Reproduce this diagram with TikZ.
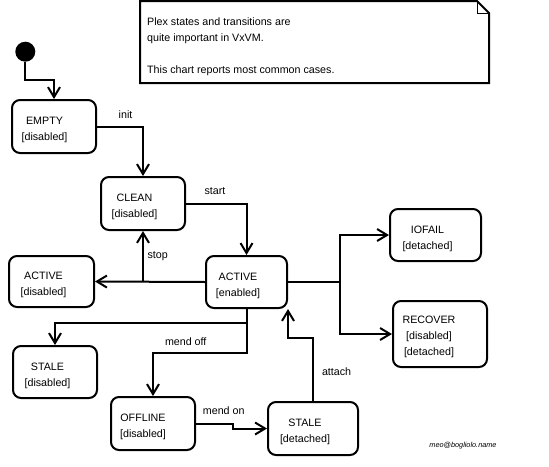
\documentclass[tikz,border=0pt]{standalone}
\usepackage{fontspec}
\setmainfont{Liberation Sans}
\usetikzlibrary{arrows.meta,positioning,calc}

\begin{document}
\begin{tikzpicture}[x=1pt,y=-1pt,
	initial/.style={circle, fill=black, minimum size=20pt, inner sep=0pt},
	state/.style={draw, rounded corners=8pt, line width=2pt, minimum width=84pt, minimum height=53pt, inner sep=0pt},
	statetxt/.style={align=center, inner sep=0pt, font=\fontsize{10.7}{16}\selectfont},
	trans/.style={line width=2pt, -{Straight Barb[length=10pt,width=12pt]}},
	link/.style={line width=2pt},
	lbl/.style={inner sep=1.5pt, font=\fontsize{10.7}{13}\selectfont}]
	\useasboundingbox (0,0) rectangle (549,466);

	%Draw note
	\draw[line width=2pt, line join=miter] (140,83) -- (140,1) -- (477,1) -- (489,13) -- (489,83) -- cycle;
	\draw[line width=0.9pt] (477,1) |- (489,13);
	\node[anchor=north west, align=left, inner sep=0pt, font=\fontsize{10.7}{16}\selectfont] (note) at (147,17.3)
		{Plex states and transitions are\\quite important in VxVM.\\[16pt]This chart reports most common cases.};

	%Draw states
	\node[initial] (start) at (25.3,51.7) {};
	\node[state] (empty) at (54,126.5) {};
	\node[statetxt] (empty txt) at ($(empty)+(-9.5,3.5)$) {EMPTY\\{[disabled]}};
	\node[state] (clean) at (143,203.5) {};
	\node[statetxt] (clean txt) at ($(clean)+(-8.5,3.5)$) {CLEAN\\{[disabled]}};
	\node[state, minimum width=81pt, minimum height=52pt] (active en) at (246.5,282) {};
	\node[statetxt] (active en txt) at ($(active en)+(-8.5,3.5)$) {ACTIVE\\{[enabled]}};
	\node[state, minimum width=85pt, minimum height=51pt] (active dis) at (51.5,281.5) {};
	\node[statetxt] (active dis txt) at ($(active dis)+(-8,3.5)$) {ACTIVE\\{[disabled]}};
	\node[state, minimum height=52pt] (stale dis) at (55,372) {};
	\node[statetxt] (stale dis txt) at ($(stale dis)+(-7.5,3.5)$) {STALE\\{[disabled]}};
	\node[state] (offline) at (153,423.5) {};
	\node[statetxt] (offline txt) at ($(offline)+(-10,3.5)$) {OFFLINE\\{[disabled]}};
	\node[state, minimum width=90pt] (stale det) at (313,428.5) {};
	\node[statetxt] (stale det txt) at ($(stale det)+(-8,3.5)$) {STALE\\{[detached]}};
	\node[state, minimum width=91pt, minimum height=52pt] (iofail) at (435.5,235) {};
	\node[statetxt] (iofail txt) at ($(iofail)+(-8,3.5)$) {IOFAIL\\{[detached]}};
	\node[state, minimum width=94pt, minimum height=66pt] (recover) at (440,334) {};
	\node[statetxt] (recover txt) at ($(recover)+(-11,2.6)$) {RECOVER\\{[disabled]}\\{[detached]}};

	%Draw transitions
	\draw[trans] (start.south) -- ++(0,18.5) -| (empty.north);
	\draw[trans] (empty.east) -| node[lbl, pos=0.31, above=5pt] {init} (clean.north);
	\draw[trans] (clean.east) -| node[lbl, pos=0.24, above=6pt] {start} (active en.north);
	\draw[trans] (active en.west) -- (active dis.east);
	\draw[trans] (clean.south |- active en.west) -- node[lbl, right=2pt] {stop} (clean.south);
	\draw[trans] (active en.south) -- ++(0,14) -| (stale dis.north);
	\draw[trans] (active en.south) -- ++(0,44) -| node[lbl, pos=0.325, above=5pt] {mend off} (offline.north);
	\draw[trans] (offline.east) -- node[lbl, pos=0.75, above=6.5pt] {mend on} ++(37,0) |- (stale det.west);
	\draw[trans] (stale det.north) -- node[lbl, pos=0.47, right=6.5pt] {attach} ++(0,-63) -| (active en.south east);
	\coordinate (fork) at (340,282);
	\draw[link] (active en.east) -- (fork);
	\draw[trans] (fork) |- (iofail.west);
	\draw[trans] (fork) |- (recover.west);

	%Draw signature
	\node[inner sep=0pt, font=\fontsize{7.3}{8}\selectfont\itshape] (sign) at (463,446) {meo@bogliolo.name};
\end{tikzpicture}
\end{document}
